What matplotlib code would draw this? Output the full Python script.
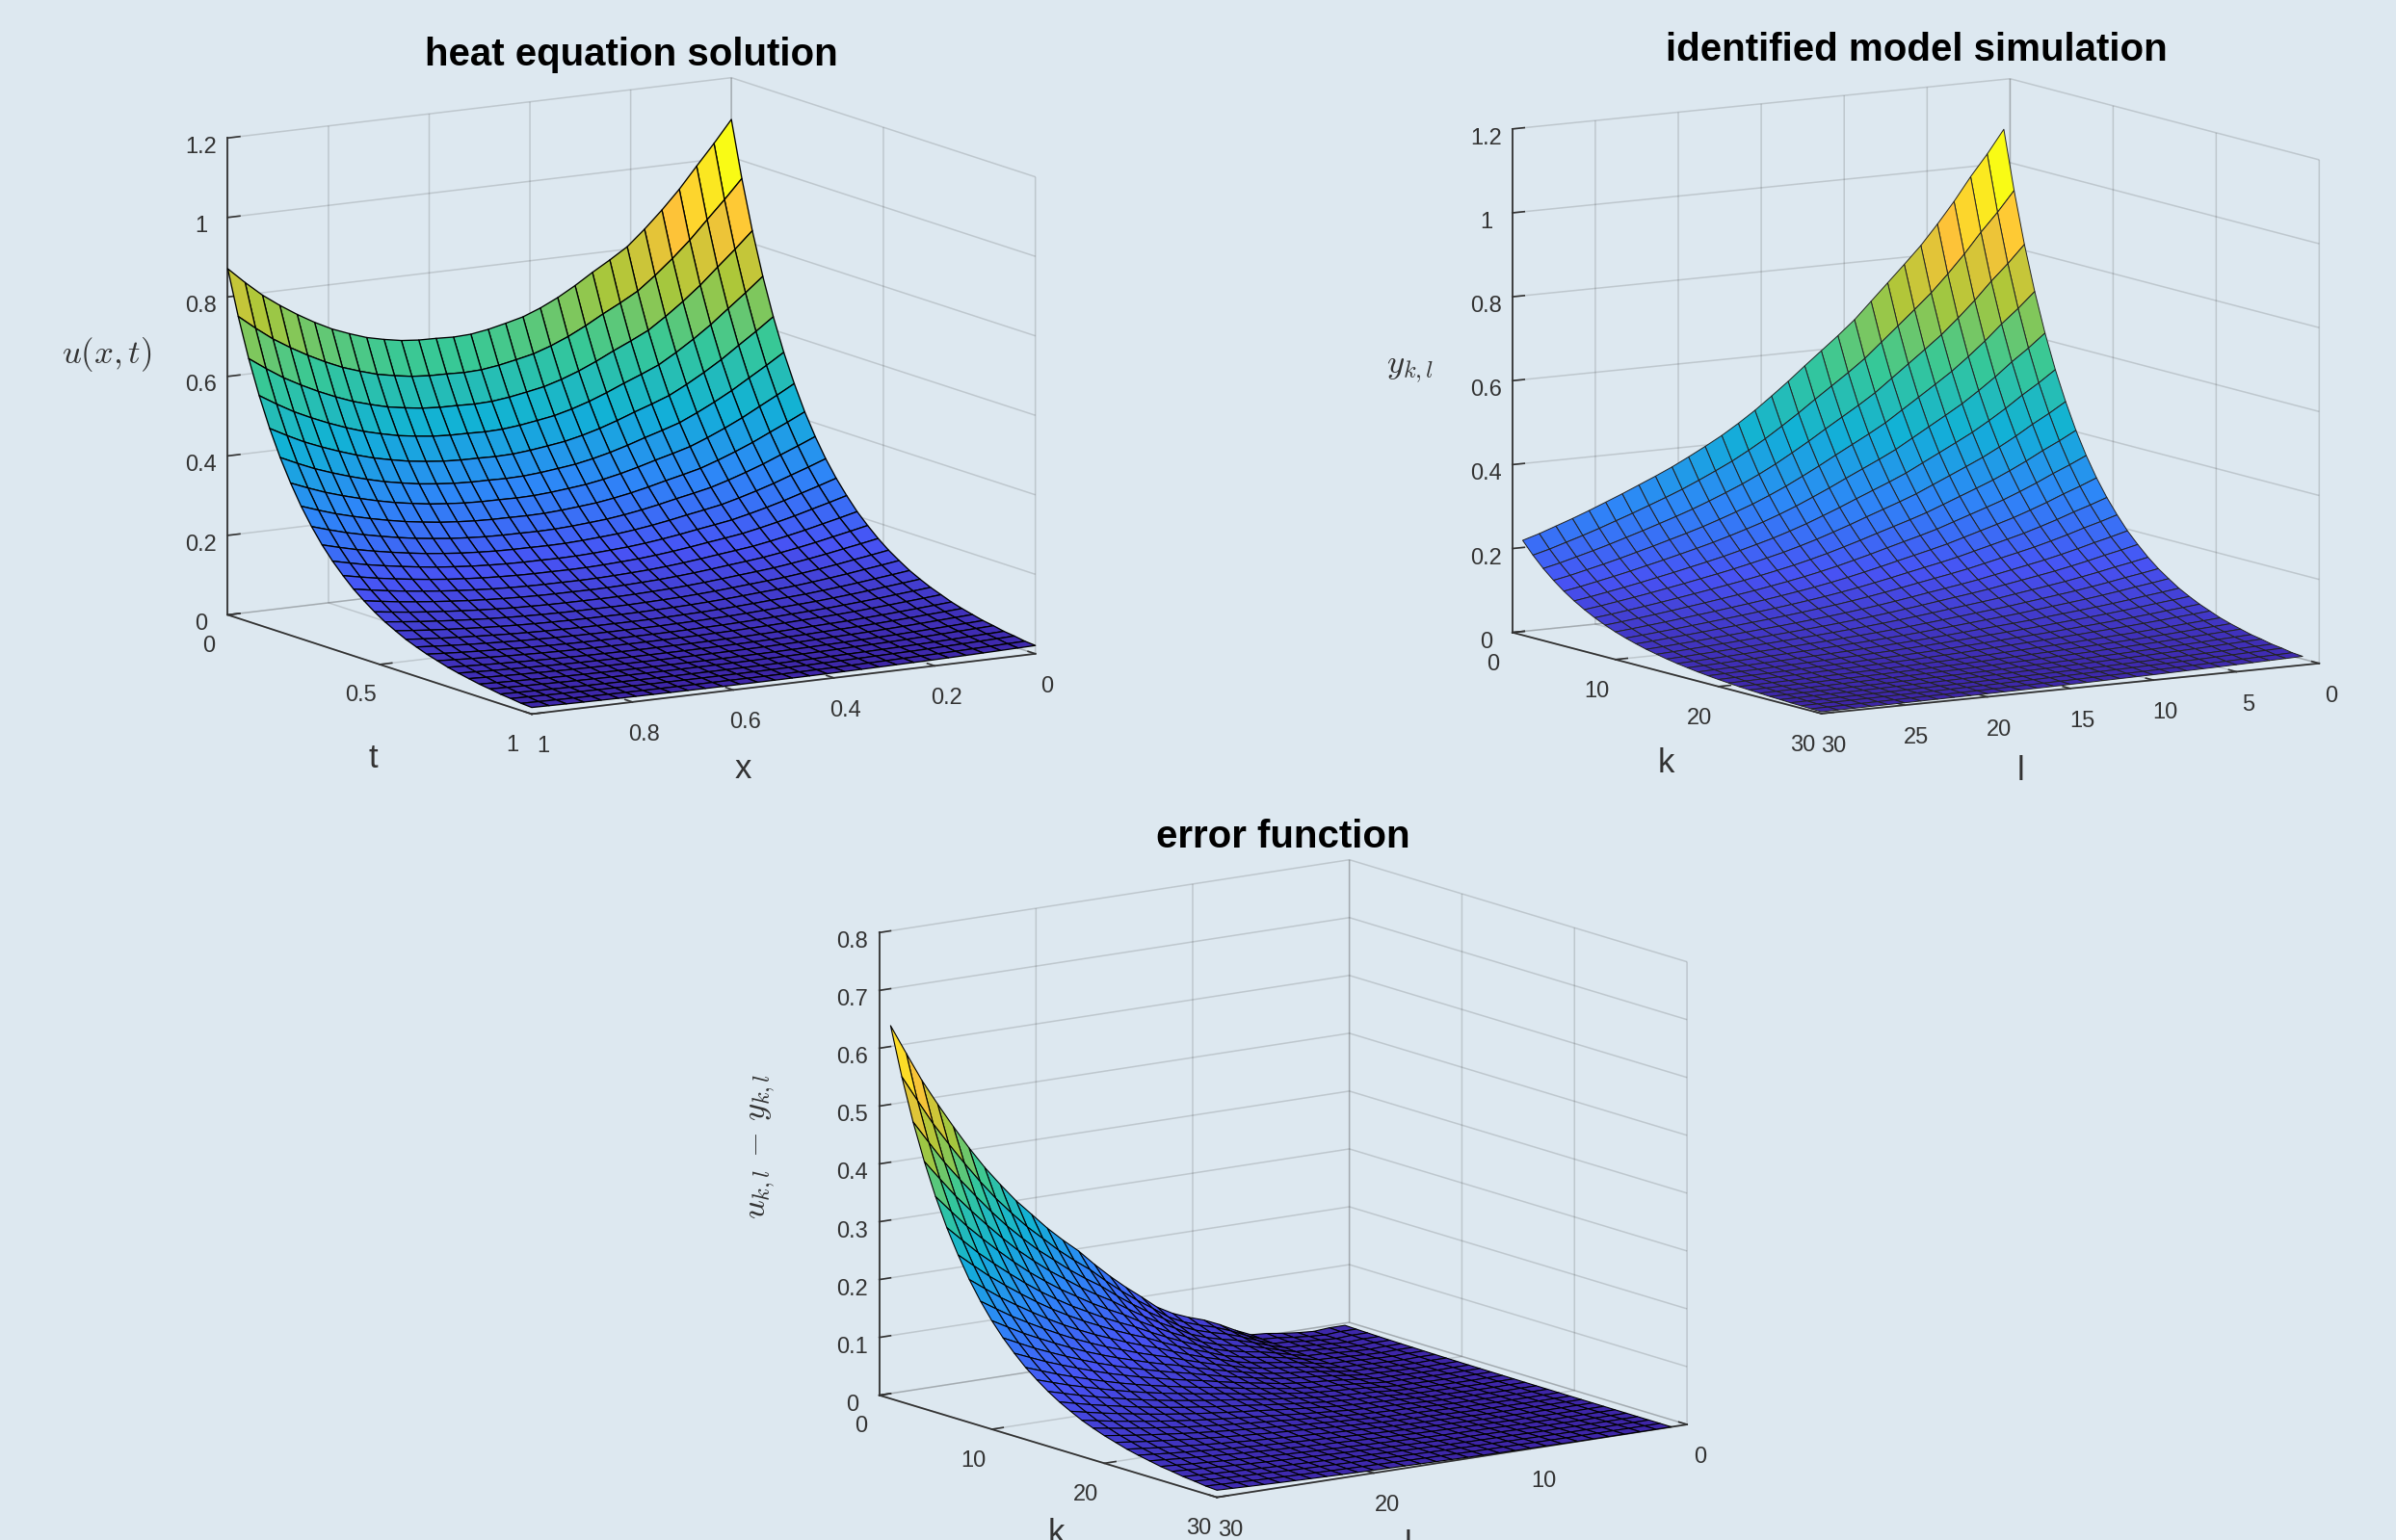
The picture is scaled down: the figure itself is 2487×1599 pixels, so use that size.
"""Three MATLAB-style surfaces: heat solution, identified model, their difference."""
from __future__ import annotations

import matplotlib
import numpy as np

matplotlib.use("Agg")
import matplotlib.pyplot as plt  # noqa: E402
from matplotlib.colors import LinearSegmentedColormap, Normalize  # noqa: E402
from mpl_toolkits.mplot3d import proj3d  # noqa: E402

W, H = 2487, 1599
BG = "#dde8f0"

# Edge values, at t=0 / k=1, from the back corner to the left corner.
# Three columns read along t fall by the same ratios, so the mesh is edge x fall.
heat_edge = [1.095, 1.040, 0.988, 0.935, 0.888, 0.845, 0.806, 0.778, 0.752, 0.724,
             0.699, 0.678, 0.661, 0.650, 0.640, 0.633, 0.631, 0.633, 0.634, 0.638,
             0.646, 0.656, 0.671, 0.688, 0.710, 0.735, 0.763, 0.794, 0.831, 0.871]
model_edge = [1.090, 1.035, 0.985, 0.930, 0.880, 0.833, 0.792, 0.752, 0.712, 0.672,
              0.638, 0.606, 0.574, 0.541, 0.510, 0.480, 0.453, 0.428, 0.406, 0.385,
              0.365, 0.347, 0.330, 0.313, 0.297, 0.281, 0.266, 0.252, 0.238, 0.226]
fall = [1.000, 0.872, 0.760, 0.663, 0.578, 0.504, 0.440, 0.383, 0.334, 0.291,
        0.254, 0.222, 0.193, 0.169, 0.147, 0.128, 0.112, 0.097, 0.085, 0.074,
        0.065, 0.056, 0.049, 0.043, 0.037, 0.033, 0.028, 0.025, 0.021, 0.019]
x_grid = [i / 29 for i in range(30)]
kl_grid = list(range(1, 31))

x_ticks = [0, 0.2, 0.4, 0.6, 0.8, 1]
x_labels = ["0", "0.2", "0.4", "0.6", "0.8", "1"]
t_ticks = [0, 0.5, 1]
t_labels = ["0", "0.5", "1"]
l_ticks = [0, 5, 10, 15, 20, 25, 30]
kl_ticks = [0, 10, 20, 30]
z_ticks_a = [0, 0.2, 0.4, 0.6, 0.8, 1, 1.2]
z_labels_a = ["0", "0.2", "0.4", "0.6", "0.8", "1", "1.2"]
z_ticks_b = [0, 0.1, 0.2, 0.3, 0.4, 0.5, 0.6, 0.7, 0.8]
z_labels_b = ["0", "0.1", "0.2", "0.3", "0.4", "0.5", "0.6", "0.7", "0.8"]

parula = LinearSegmentedColormap.from_list("parula", [
    (0.2422, 0.1504, 0.6603), (0.2810, 0.3228, 0.9579), (0.1786, 0.5289, 0.9682),
    (0.0689, 0.6948, 0.8394), (0.2161, 0.7843, 0.5923), (0.6720, 0.7793, 0.2227),
    (0.9970, 0.7659, 0.2199), (0.9769, 0.9839, 0.0805)])


def place_axes(fig, ax, corner_a, px_a, corner_b, px_b):
    """Position the square 3D axes so two box corners land on given pixels."""
    M = ax.get_proj()
    xa, ya, _ = proj3d.proj_transform(*corner_a, M)
    xb, yb, _ = proj3d.proj_transform(*corner_b, M)
    scale = (px_b[0] - px_a[0]) / (xb - xa)
    vx0, vx1 = ax.viewLim.intervalx
    vy0, vy1 = ax.viewLim.intervaly
    left = px_a[0] - (xa - vx0) * scale
    bottom = (H - px_a[1]) - (ya - vy0) * scale
    ax.set_position([left / W, bottom / H, (vx1 - vx0) * scale / W, (vy1 - vy0) * scale / H])


def surface(fig, xs, ys, zz, xlim, ylim, zlim, view, aspect, px_left, px_right, lw, ec,
            xticks, xlabels, yticks, ylabels, zticks, zlabels):
    ax = fig.add_subplot(projection="3d", computed_zorder=False)
    ax.patch.set_alpha(0)
    ax.set_proj_type("ortho")
    ax.view_init(elev=view[0], azim=view[1])
    ax.set_box_aspect(aspect)
    ax.set_xlim(*xlim, view_margin=0)
    ax.set_ylim(*ylim, view_margin=0)
    ax.set_zlim(*zlim, view_margin=0)

    X, Y = np.meshgrid(xs, ys)
    norm = Normalize(zz.min(), zz.max())
    surf = ax.plot_surface(X, Y, zz, rstride=1, cstride=1, facecolors=parula(norm(zz)),
                           shade=False, antialiased=True)
    surf.set_edgecolor(ec)
    surf.set_linewidth(lw)

    ax.set_xticks(xticks, xlabels)
    ax.set_yticks(yticks, ylabels)
    ax.set_zticks(zticks, zlabels)
    ax.zaxis.set_ticks_position("lower")
    for axis, pad in ((ax.xaxis, 6), (ax.yaxis, 6), (ax.zaxis, 4)):
        axis.set_pane_color((1, 1, 1, 0))
        axis.pane.set_edgecolor((0.15, 0.15, 0.15, 0.18))
        axis.pane.set_linewidth(1.1)
        axis.line.set_color("#333333")
        axis.line.set_linewidth(1.3)
        axis._axinfo["grid"].update(color=(0.15, 0.15, 0.15, 0.17), linewidth=1.1)
        axis._axinfo["tick"].update(inward_factor=0, outward_factor=0.3, color="#333333",
                                    linewidth={True: 1.2, False: 0.8})
        axis.set_tick_params(pad=pad, labelsize=17, labelcolor="#333333", color="#333333")
    place_axes(fig, ax, (xlim[1], ylim[0], 0), px_left, (xlim[0], ylim[1], 0), px_right)
    return ax


def main() -> None:
    plt.rcParams["font.family"] = ["Liberation Sans", "DejaVu Sans"]
    plt.rcParams["mathtext.fontset"] = "cm"
    fig = plt.figure(figsize=(W / 100, H / 100), dpi=100, facecolor=BG)

    fall_arr = np.array(fall)
    heat = np.outer(fall_arr, heat_edge)
    model = np.outer(fall_arr, model_edge)
    error = heat - model

    surface(fig, x_grid, x_grid, heat, (0, 1), (0, 1), (0, 1.2), (11.4, 58.8), (611, 609, 505),
            (236.4, 638.4), (1074.7, 679), 0.95, "black",
            x_ticks, x_labels, t_ticks, t_labels, z_ticks_a, z_labels_a)
    surface(fig, kl_grid, kl_grid, model, (0, 30), (0, 30), (0, 1.2), (9.36, 58.2), (608, 609, 530),
            (1569.8, 656.7), (2407.3, 688.8), 0.7, "#222222",
            l_ticks, [str(v) for v in l_ticks], kl_ticks, [str(v) for v in kl_ticks],
            z_ticks_a, z_labels_a)
    surface(fig, kl_grid, kl_grid, error, (0, 30), (0, 30), (0, 0.8), (12.5, 54.4), (600, 602, 492),
            (912.7, 1448.7), (1751.1, 1479.2), 0.8, "black",
            kl_ticks, [str(v) for v in kl_ticks], kl_ticks, [str(v) for v in kl_ticks],
            z_ticks_b, z_labels_b)

    def label(px, py, s, **kw):
        fig.text(px / W, 1 - py / H, s, ha="center", va="center", **kw)

    label(655, 57, "heat equation solution", fontsize=29, fontweight="bold")
    label(1989, 52, "identified model simulation", fontsize=29, fontweight="bold")
    label(1332, 869, "error function", fontsize=29, fontweight="bold")

    label(111, 368, r"$u(x,t)$", fontsize=25, color="#333333")
    label(1464, 384, r"$y_{k,l}$", fontsize=25, color="#333333")
    label(790, 1190, r"$u_{k,l}\,-\,y_{k,l}$", fontsize=25, color="#333333", rotation=90)
    label(387, 787, "t", fontsize=25, color="#333333")
    label(771, 798, "x", fontsize=25, color="#333333")
    label(1729, 793, "k", fontsize=25, color="#333333")
    label(2098, 801, "l", fontsize=25, color="#333333")
    label(1096, 1592, "k", fontsize=25, color="#333333")
    label(1461, 1604, "l", fontsize=25, color="#333333")

    fig.savefig("out.png", dpi=100, facecolor=BG)
    plt.close(fig)


if __name__ == "__main__":
    main()
